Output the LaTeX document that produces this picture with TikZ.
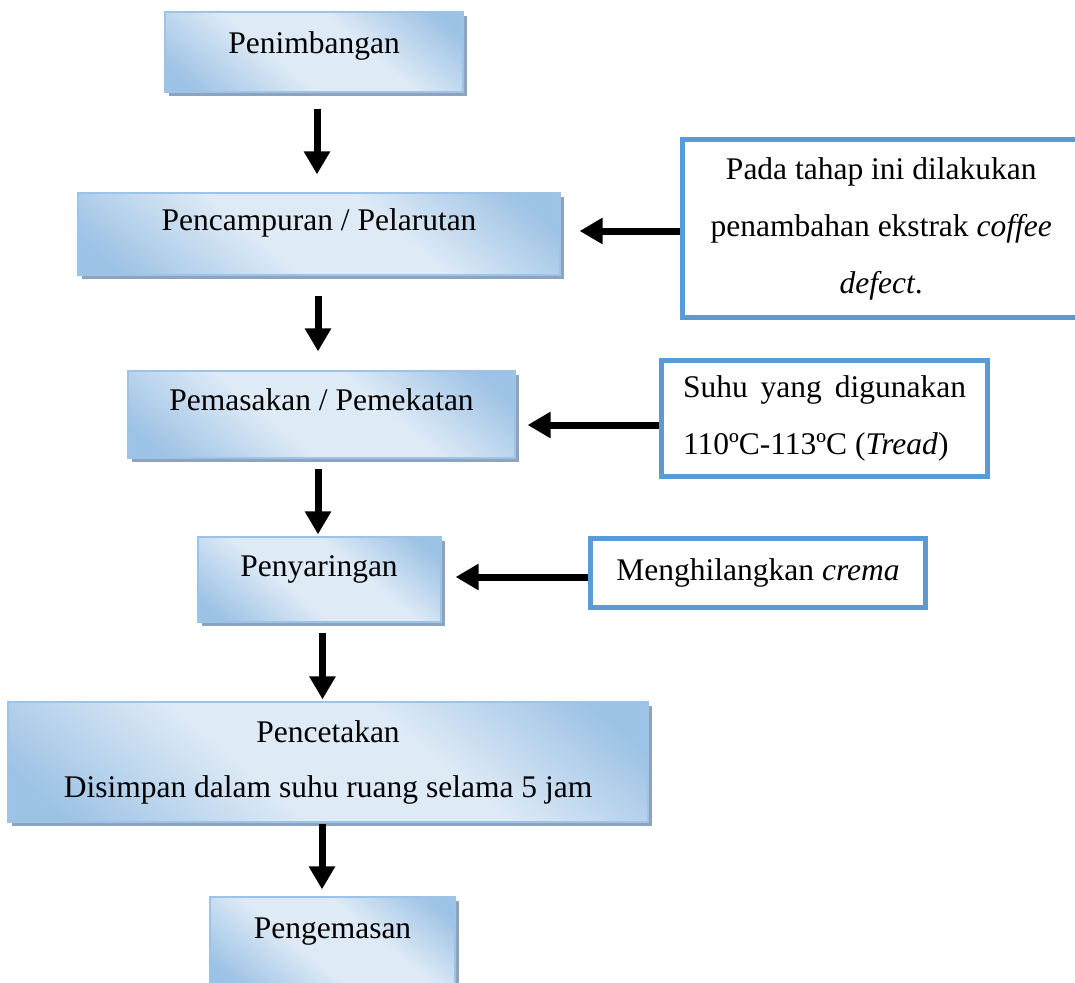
\documentclass[tikz,border=0pt]{standalone}
\usepackage{fontspec}
\setmainfont{Liberation Serif}
\usetikzlibrary{arrows.meta,shadows,calc}
\definecolor{bdark}{HTML}{9CC2E5}
\definecolor{blight}{HTML}{DEEAF6}
\definecolor{bedge}{HTML}{9DC3E6}
\definecolor{shadowc}{HTML}{8EA3BD}
\definecolor{noteblue}{HTML}{5B9BD5}
\pgfdeclarehorizontalshading{boxshade}{100bp}{color(0bp)=(bdark); color(20bp)=(bdark); color(42bp)=(blight); color(60bp)=(blight); color(80bp)=(bdark); color(100bp)=(bdark)}
\tikzset{
  procbox/.style 2 args={draw=bedge, line width=1.2pt, shading=boxshade, shading angle=50,
    drop shadow={fill=shadowc, opacity=1, shadow xshift=4pt, shadow yshift=-4pt},
    minimum width=#1, minimum height=#2, inner sep=0pt},
  notebox/.style 2 args={draw=noteblue, line width=5pt, fill=white,
    minimum width=#1, minimum height=#2, inner sep=0pt},
  txt/.style={font=\fontsize{31.5}{57}\selectfont, inner sep=0pt, anchor=base},
  arr/.style={line width=7pt, -{Triangle[length=23pt,width=25pt]}},
}
\begin{document}
\begin{tikzpicture}[x=1pt,y=-1pt]
\useasboundingbox (0,0) rectangle (1075,982);
% process boxes
\node[procbox={298pt}{80pt}] (b1) at (314,52) {};
\node[procbox={482pt}{82pt}] (b2) at (319,234) {};
\node[procbox={387pt}{87pt}] (b3) at (321.5,414.5) {};
\node[procbox={243pt}{85pt}] (b4) at (319.5,579.5) {};
\node[procbox={640pt}{120pt}] (b5) at (328,762) {};
\node[procbox={245pt}{88pt}] (b6) at (332.5,941) {};
% texts
\node[txt] (t1) at (314,53) {Penimbangan};
\node[txt] (t2) at (319,230) {Pencampuran / Pelarutan};
\node[txt] (t3) at (321.5,410) {Pemasakan / Pemekatan};
\node[txt] (t4) at (319,576) {Penyaringan};
\node[txt] (t5a) at (328,742) {Pencetakan};
\node[txt] (t5b) at (328,797) {Disimpan dalam suhu ruang selama 5 jam};
\node[txt] (t6) at (332.5,938) {Pengemasan};
% note boxes
\node[notebox={397.5pt}{178pt}, align=center, font=\fontsize{31.5}{57}\selectfont] (r1) at (881.25,228.5)
  {Pada tahap ini dilakukan\\penambahan ekstrak \textit{coffee}\\\textit{defect}.};
\node[notebox={326pt}{116pt}, align=left, font=\fontsize{31.5}{57}\selectfont] (r2) at (824.5,418.5)
  {\makebox[283pt][s]{Suhu yang digunakan}\\110ºC-113ºC (\textit{Tread})};
\node[notebox={335pt}{69pt}, font=\fontsize{31.5}{57}\selectfont] (r3) at (758,573)
  {Menghilangkan \textit{crema}};
% vertical arrows
\draw[arr, shorten <=16pt, shorten >=18pt] ([xshift=3pt]b1.south) -- ([xshift=3pt]b1.south |- b2.north);
\draw[arr, shorten <=20pt, shorten >=19pt] ([xshift=-1pt]b2.south) -- ([xshift=-1pt]b2.south |- b3.north);
\draw[arr, shorten <=10pt, shorten >=2pt] ([xshift=-3.5pt]b3.south) -- ([xshift=-3.5pt]b3.south |- b4.north);
\draw[arr, shorten <=10pt, shorten >=2pt] ([xshift=3pt]b4.south) -- ([xshift=3pt]b4.south |- b5.north);
\draw[arr, shorten <=1pt, shorten >=7pt] ([xshift=-6pt]b5.south) -- ([xshift=-6pt]b5.south |- b6.north);
% horizontal arrows
\draw[arr, shorten >=19pt] ([yshift=-2.5pt]r1.west) -- ([yshift=-2.5pt]r1.west -| b2.east);
\draw[arr, shorten >=12pt] ([yshift=-6.5pt]r2.west) -- ([yshift=-6.5pt]r2.west -| b3.east);
\draw[arr, shorten >=14pt] ([yshift=-4pt]r3.west) -- ([yshift=-4pt]r3.west -| b4.east);
\end{tikzpicture}
\end{document}
